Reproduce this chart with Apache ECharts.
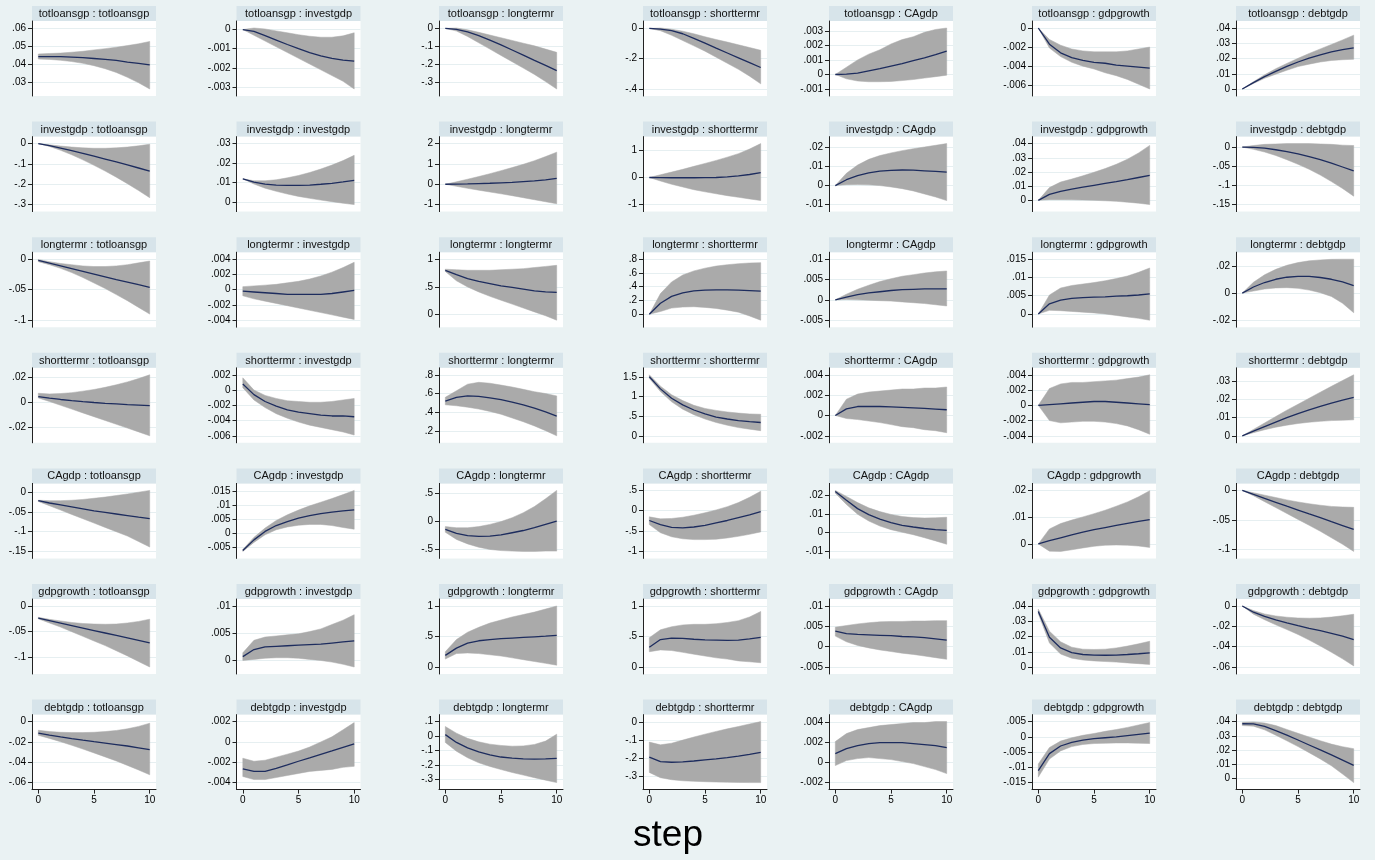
<!DOCTYPE html>
<html>
<head>
<meta charset="utf-8">
<script src="https://cdn.jsdelivr.net/npm/echarts@6/dist/echarts.min.js"></script>
<style>
  html, body { margin: 0; padding: 0; background: #eaf2f3; }
  #chart { width: 1375px; height: 860px; }
</style>
</head>
<body>
<div id="chart"></div>
<script>
// impulse response grid: row = impulse variable, column = response variable
const vars = ["totloansgp", "investgdp", "longtermr", "shorttermr", "CAgdp", "gdpgrowth", "debtgdp"];
const steps = [0, 1, 2, 3, 4, 5, 6, 7, 8, 9, 10];
const xTicks = [0, 5, 10];

// --- impulse: totloansgp ---
const ticksTotloansgp = [[.03,.04,.05,.06],[-.003,-.002,-.001,0],[-.3,-.2,-.1,0],[-.4,-.2,0],[-.001,0,.001,.002,.003],[-.006,-.004,-.002,0],[0,.01,.02,.03,.04]];
const irfTotloansgp = [
  [.044,.044,.044,.0438,.0435,.043,.0425,.042,.041,.0403,.0395],
  [0,-.0001,-.00032,-.00055,-.00078,-.001,-.0012,-.00137,-.0015,-.0016,-.00165],
  [0,-.006,-.02,-.04,-.065,-.092,-.12,-.148,-.177,-.205,-.234],
  [0,-.004,-.015,-.035,-.065,-.097,-.13,-.162,-.194,-.226,-.258],
  [0,.00002,.0001,.00025,.0004,.00058,.00075,.00095,.00115,.00137,.0016],
  [0,-.0017,-.0026,-.0031,-.0034,-.0036,-.0037,-.0039,-.004,-.0041,-.0042],
  [0,.0042,.0081,.0116,.0148,.0177,.0202,.0224,.0243,.0258,.027]
];
const loTotloansgp = [
  [.0427,.0425,.042,.0413,.0403,.039,.0373,.0352,.0325,.0295,.026],
  [0,-.0003,-.0006,-.0009,-.0012,-.0015,-.0018,-.0021,-.0024,-.0027,-.0031],
  [0,-.015,-.045,-.08,-.115,-.15,-.185,-.22,-.255,-.295,-.336],
  [0,-.015,-.045,-.08,-.115,-.15,-.19,-.23,-.27,-.315,-.366],
  [0,-.0003,-.00045,-.0005,-.0005,-.00048,-.00042,-.00035,-.00025,-.00015,-.00005],
  [0,-.0021,-.003,-.0036,-.004,-.0043,-.0047,-.005,-.0054,-.0059,-.0064],
  [0,.0036,.007,.0097,.0123,.0147,.0163,.0177,.0187,.0192,.0195]
];
const hiTotloansgp = [
  [.0455,.0458,.046,.0465,.047,.0478,.0485,.0493,.0502,.0512,.0525],
  [0,.00008,.00003,-.00007,-.00017,-.00027,-.00035,-.0004,-.0004,-.00033,-.00017],
  [0,.002,-.008,-.022,-.037,-.052,-.067,-.082,-.097,-.115,-.133],
  [0,.003,-.005,-.018,-.035,-.055,-.073,-.09,-.108,-.126,-.144],
  [0,.0005,.001,.0014,.0017,.0021,.0024,.0026,.0029,.0031,.0032],
  [0,-.0012,-.0018,-.0022,-.0024,-.0025,-.0025,-.0025,-.0024,-.0022,-.002],
  [0,.0048,.0093,.0133,.0168,.0201,.0233,.0263,.0292,.0322,.0353]
];

// --- impulse: investgdp ---
const ticksInvestgdp = [[-.3,-.2,-.1,0],[0,.01,.02,.03],[-1,0,1,2],[-1,0,1],[-.01,0,.01,.02],[0,.01,.02,.03,.04],[-.15,-.1,-.05,0]];
const irfInvestgdp = [
  [0,-.01,-.022,-.035,-.048,-.062,-.076,-.09,-.105,-.12,-.135],
  [.012,.0103,.0093,.0088,.0086,.0086,.0088,.0092,.0097,.0104,.0112],
  [0,.01,.02,.035,.05,.07,.09,.13,.17,.22,.29],
  [0,-.005,-.01,-.01,-.01,-.005,0,.02,.06,.11,.18],
  [0,.0031,.0052,.0067,.0076,.008,.0082,.0081,.0078,.0075,.0071],
  [0,.0042,.0063,.0079,.0093,.0106,.0119,.0132,.0146,.0161,.0176],
  [0,-.001,-.003,-.007,-.012,-.018,-.025,-.033,-.042,-.052,-.062]
];
const loInvestgdp = [
  [0,-.014,-.033,-.055,-.08,-.107,-.135,-.165,-.197,-.231,-.266],
  [.012,.0093,.0072,.0056,.0042,.003,.002,.0011,.0003,-.0005,-.0012],
  [0,-.1,-.2,-.29,-.38,-.47,-.56,-.66,-.76,-.86,-.96],
  [0,-.13,-.25,-.35,-.45,-.53,-.6,-.67,-.73,-.79,-.85],
  [0,.0005,.0006,.0004,0,-.0007,-.0016,-.0028,-.0044,-.006,-.0079],
  [0,.0005,.0005,.0004,.0002,0,-.0003,-.0007,-.0013,-.002,-.003],
  [0,-.006,-.013,-.022,-.033,-.045,-.058,-.073,-.09,-.108,-.128]
];
const hiInvestgdp = [
  [0,-.006,-.012,-.017,-.021,-.023,-.023,-.021,-.017,-.011,-.003],
  [.012,.011,.011,.0115,.0125,.0137,.0152,.017,.019,.0213,.024],
  [0,.12,.25,.38,.52,.67,.82,.98,1.16,1.36,1.58],
  [0,.1,.2,.3,.41,.52,.63,.75,.88,1.05,1.25],
  [0,.0065,.0108,.0138,.0158,.0172,.0184,.0194,.0203,.0212,.0221],
  [0,.009,.0129,.015,.0173,.0198,.0224,.0254,.029,.0334,.0387],
  [0,.004,.007,.008,.009,.009,.009,.008,.007,.005,.004]
];

// --- impulse: longtermr ---
const ticksLongtermr = [[-.1,-.05,0],[-.004,-.002,0,.002,.004],[0,.5,1],[0,.2,.4,.6,.8],[-.005,0,.005,.01],[0,.005,.01,.015],[-.02,0,.02]];
const irfLongtermr = [
  [-.002,-.0065,-.011,-.0155,-.02,-.0245,-.029,-.0335,-.0375,-.0418,-.046],
  [-.0002,-.0003,-.0004,-.0005,-.0006,-.0006,-.0006,-.0006,-.0005,-.0003,-.0001],
  [.8,.72,.65,.6,.56,.52,.49,.46,.43,.41,.4],
  [0,.16,.26,.31,.34,.35,.355,.355,.35,.345,.335],
  [0,.0007,.0013,.0017,.002,.0023,.0025,.0026,.0027,.0027,.0027],
  [0,.0028,.0038,.0043,.0045,.0046,.0047,.0049,.005,.0052,.0055],
  [0,.0045,.0078,.0102,.0117,.0124,.0123,.0115,.0102,.0082,.0055]
];
const loLongtermr = [
  [-.004,-.009,-.015,-.022,-.03,-.039,-.048,-.058,-.068,-.079,-.09],
  [-.0008,-.0012,-.0015,-.0018,-.0021,-.0024,-.0027,-.003,-.0033,-.0036,-.0039],
  [.78,.61,.5,.41,.33,.26,.19,.12,.05,-.02,-.1],
  [0,.04,.09,.105,.11,.1,.085,.06,.03,-.025,-.086],
  [0,.0001,0,-.0001,-.0002,-.0003,-.0005,-.0007,-.0009,-.0012,-.0015],
  [0,.001,.0009,.0007,.0005,.0003,0,-.0004,-.0008,-.0012,-.0017],
  [0,.0015,.003,.0038,.004,.0035,.0022,.0003,-.0025,-.0075,-.0145]
];
const hiLongtermr = [
  [-.0005,-.004,-.007,-.009,-.011,-.012,-.012,-.011,-.009,-.006,-.003],
  [.0004,.0005,.0006,.0007,.0009,.0011,.0014,.0018,.0023,.0029,.0036],
  [.82,.81,.8,.8,.8,.81,.82,.83,.85,.87,.89],
  [0,.3,.47,.57,.63,.67,.7,.72,.735,.745,.75],
  [0,.0014,.0026,.0036,.0045,.0052,.0058,.0062,.0066,.0069,.0071],
  [0,.0052,.0071,.0078,.0082,.0086,.0091,.0097,.0104,.0114,.0126],
  [0,.008,.0135,.0175,.0205,.0225,.0238,.0245,.0249,.025,.025]
];

// --- impulse: shorttermr ---
const ticksShorttermr = [[-.02,0,.02],[-.006,-.004,-.002,0,.002],[.2,.4,.6,.8],[0,.5,1,1.5],[-.002,0,.002,.004],[-.004,-.002,0,.002,.004],[0,.01,.02,.03]];
const irfShorttermr = [
  [.0044,.0032,.0021,.0012,.0004,-.0003,-.0009,-.0014,-.0019,-.0023,-.0027],
  [.0008,-.0006,-.0015,-.0021,-.0026,-.0029,-.0031,-.0033,-.0034,-.0034,-.0035],
  [.52,.56,.575,.57,.555,.535,.51,.48,.445,.405,.36],
  [1.51,1.2,.96,.79,.66,.56,.48,.43,.39,.36,.34],
  [0,.00065,.00088,.0009,.00088,.00084,.0008,.00075,.0007,.00063,.00056],
  [0,.0001,.0002,.0003,.0004,.0005,.0005,.0004,.0003,.0002,.0001],
  [0,.0025,.005,.0075,.0099,.0121,.0142,.016,.0178,.0195,.021]
];
const loShorttermr = [
  [.0033,.0005,-.0025,-.0055,-.0085,-.0115,-.0145,-.0175,-.0205,-.0235,-.0266],
  [.0003,-.0013,-.0023,-.0031,-.0037,-.0042,-.0046,-.0049,-.0052,-.0055,-.0059],
  [.48,.47,.455,.435,.41,.38,.34,.3,.255,.205,.15],
  [1.47,1.13,.87,.68,.54,.43,.34,.27,.21,.17,.13],
  [0,-.0003,-.0004,-.00055,-.0007,-.0009,-.0011,-.0012,-.0014,-.0015,-.0017],
  [0,-.002,-.0023,-.0022,-.0021,-.0021,-.0022,-.0024,-.0027,-.0032,-.0038],
  [0,.0017,.0033,.0047,.0058,.0067,.0074,.0079,.0083,.0085,.0087]
];
const hiShorttermr = [
  [.007,.0065,.0068,.0075,.0087,.01,.0117,.0137,.016,.0186,.0216],
  [.0016,0,-.0007,-.0011,-.0014,-.0015,-.0016,-.0016,-.0015,-.0013,-.0011],
  [.56,.63,.7,.72,.71,.69,.67,.645,.62,.6,.575],
  [1.56,1.27,1.05,.9,.78,.7,.65,.61,.58,.56,.55],
  [0,.0016,.0021,.0023,.0024,.0025,.0026,.0026,.0027,.0027,.0028],
  [0,.0022,.0028,.003,.003,.0031,.0032,.0033,.0035,.0037,.004],
  [0,.0035,.007,.0105,.014,.0172,.0205,.0238,.027,.0302,.0333]
];

// --- impulse: CAgdp ---
const ticksCAgdp = [[-.15,-.1,-.05,0],[-.005,0,.005,.01,.015],[-.5,0,.5],[-1,-.5,0,.5],[-.01,0,.01,.02],[0,.01,.02],[-.1,-.05,0]];
const irfCAgdp = [
  [-.021,-.027,-.032,-.037,-.042,-.047,-.051,-.055,-.059,-.063,-.0665],
  [-.0062,-.0024,.0006,.0027,.0041,.0053,.0062,.0069,.0075,.0079,.0083],
  [-.15,-.22,-.26,-.275,-.27,-.25,-.21,-.17,-.12,-.06,0],
  [-.24,-.34,-.41,-.42,-.4,-.36,-.3,-.24,-.17,-.1,-.02],
  [.0219,.0172,.0128,.0096,.0072,.0053,.0039,.003,.0022,.0016,.0012],
  [0,.0012,.0023,.0034,.0044,.0053,.0061,.0069,.0077,.0084,.0091],
  [0,-.0068,-.0135,-.0201,-.0267,-.0332,-.0397,-.046,-.0528,-.0593,-.0657]
];
const loCAgdp = [
  [-.023,-.034,-.045,-.056,-.067,-.078,-.089,-.1,-.111,-.125,-.139],
  [-.0065,-.0033,-.0006,.0012,.0022,.0028,.0031,.0031,.0027,.002,.0014],
  [-.2,-.33,-.41,-.47,-.51,-.53,-.54,-.545,-.545,-.54,-.54],
  [-.34,-.54,-.64,-.69,-.71,-.71,-.7,-.67,-.63,-.58,-.52],
  [.021,.015,.0098,.0062,.0035,.0016,.0002,-.0011,-.0027,-.0044,-.0062],
  [0,-.0027,-.0028,-.0022,-.0015,-.0009,-.0005,-.0004,-.0005,-.0008,-.0013],
  [0,-.009,-.019,-.029,-.039,-.049,-.059,-.069,-.08,-.091,-.103]
];
const hiCAgdp = [
  [-.02,-.021,-.021,-.02,-.018,-.015,-.012,-.008,-.004,.0005,.005],
  [-.0058,-.0015,.0018,.0045,.0065,.0082,.0097,.011,.0123,.0137,.0152],
  [-.1,-.12,-.12,-.1,-.06,-.01,.06,.15,.26,.4,.55],
  [-.15,-.2,-.19,-.16,-.11,-.05,.02,.1,.2,.33,.48],
  [.0225,.0193,.016,.0132,.0112,.0097,.0086,.008,.0078,.0079,.0082],
  [0,.0056,.0076,.0089,.0101,.0113,.0126,.0141,.0157,.0176,.0199],
  [0,-.004,-.008,-.012,-.016,-.0195,-.0225,-.025,-.027,-.028,-.0286]
];

// --- impulse: gdpgrowth ---
const ticksGdpgrowth = [[-.1,-.05,0],[0,.005,.01],[0,.5,1],[0,.5,1],[-.005,0,.005,.01],[0,.01,.02,.03,.04],[-.06,-.04,-.02,0]];
const irfGdpgrowth = [
  [-.0237,-.0285,-.0333,-.0381,-.0429,-.0477,-.0525,-.0573,-.0621,-.0669,-.0717],
  [.0007,.002,.0025,.0026,.0027,.0028,.0029,.003,.0032,.0034,.0036],
  [.19,.31,.39,.43,.45,.465,.475,.485,.495,.505,.52],
  [.325,.45,.475,.47,.455,.445,.44,.435,.44,.46,.485],
  [.0038,.0032,.003,.0029,.0028,.0027,.0025,.0024,.0022,.0019,.0016],
  [.0364,.0195,.0125,.0094,.0082,.0078,.0077,.0078,.0082,.0087,.0093],
  [0,-.0061,-.0103,-.0137,-.0166,-.0194,-.0219,-.0243,-.0269,-.0297,-.033]
];
const loGdpgrowth = [
  [-.025,-.033,-.041,-.05,-.059,-.068,-.077,-.087,-.097,-.108,-.1186],
  [0,.0002,.0004,.0005,.0005,.0004,.0002,0,-.0003,-.0007,-.0012],
  [.13,.22,.23,.22,.2,.18,.15,.12,.09,.06,.03],
  [.25,.28,.27,.24,.21,.18,.15,.13,.1,.085,.07],
  [.0026,.0012,.0003,-.0003,-.0008,-.0012,-.0016,-.0019,-.0023,-.0027,-.0031],
  [.035,.0158,.0085,.0058,.0046,.004,.0036,.0032,.0027,.0022,.0017],
  [0,-.008,-.0135,-.0185,-.0232,-.028,-.0335,-.0393,-.0455,-.052,-.0589]
];
const hiGdpgrowth = [
  [-.022,-.026,-.029,-.032,-.034,-.035,-.0355,-.035,-.033,-.03,-.0256],
  [.0014,.0037,.0043,.0045,.0047,.0049,.0053,.0058,.0066,.0074,.0084],
  [.25,.45,.57,.65,.72,.77,.82,.86,.9,.95,1.0],
  [.48,.61,.66,.69,.7,.7,.71,.73,.76,.82,.91],
  [.0048,.0052,.0056,.0059,.0061,.0062,.0062,.0063,.0063,.0064,.0064],
  [.038,.0235,.0165,.013,.0117,.0115,.0117,.0125,.0137,.0152,.0169],
  [0,-.0045,-.0078,-.0098,-.011,-.0118,-.012,-.0117,-.0109,-.0096,-.0081]
];

// --- impulse: debtgdp ---
const ticksDebtgdp = [[-.06,-.04,-.02,0],[-.004,-.002,0,.002],[-.3,-.2,-.1,0,.1],[-.3,-.2,-.1,0],[-.002,0,.002,.004],[-.015,-.01,-.005,0,.005],[0,.01,.02,.03,.04]];
const irfDebtgdp = [
  [-.0113,-.0132,-.015,-.0167,-.0183,-.0198,-.0212,-.0226,-.024,-.0258,-.0276],
  [-.00265,-.0029,-.0029,-.0026,-.00226,-.0019,-.00157,-.00123,-.00089,-.00054,-.0002],
  [.01,-.044,-.082,-.11,-.13,-.145,-.153,-.158,-.16,-.158,-.154],
  [-.194,-.219,-.222,-.22,-.215,-.209,-.203,-.196,-.188,-.178,-.167],
  [.0009,.0014,.0017,.0019,.002,.002,.002,.0019,.0018,.0017,.0015],
  [-.0111,-.0055,-.003,-.0018,-.0011,-.0006,-.0003,0,.0004,.0008,.0012],
  [.0385,.0384,.0366,.0337,.0305,.0271,.0236,.0201,.0166,.013,.0093]
];
const loDebtgdp = [
  [-.0135,-.0165,-.0198,-.0233,-.027,-.0308,-.0347,-.0387,-.0431,-.0476,-.0523],
  [-.0034,-.0037,-.0037,-.0035,-.0033,-.0031,-.0029,-.0028,-.0027,-.0025,-.0024],
  [-.044,-.105,-.15,-.185,-.21,-.232,-.252,-.27,-.288,-.305,-.322],
  [-.278,-.307,-.318,-.324,-.327,-.329,-.331,-.332,-.333,-.334,-.334],
  [-.0003,.0002,.0004,.0005,.0004,.0003,.0001,-.0001,-.0004,-.0007,-.0011],
  [-.0132,-.0073,-.0046,-.0032,-.0025,-.0022,-.0021,-.002,-.002,-.0021,-.0022],
  [.0372,.0368,.0342,.0305,.0265,.0225,.0182,.0138,.009,.0032,-.0028]
];
const hiDebtgdp = [
  [-.0085,-.0098,-.0105,-.0108,-.0108,-.0105,-.0098,-.0087,-.0071,-.0047,-.0016],
  [-.0016,-.0019,-.0018,-.0015,-.0012,-.0009,-.0005,0,.0005,.0012,.0019],
  [.066,.02,-.016,-.04,-.056,-.065,-.07,-.068,-.058,-.035,.013],
  [-.111,-.126,-.117,-.1,-.083,-.067,-.052,-.038,-.025,-.011,.002],
  [.0021,.0029,.0033,.0035,.0037,.0038,.0039,.004,.004,.0041,.0041],
  [-.0089,-.0035,-.0014,-.0003,.0005,.0011,.0018,.0024,.0031,.0039,.0047],
  [.0395,.0398,.039,.0372,.0345,.0318,.0292,.0266,.0242,.0224,.021]
];

const rows = [
  { ticks: ticksTotloansgp, irf: irfTotloansgp, lo: loTotloansgp, hi: hiTotloansgp },
  { ticks: ticksInvestgdp, irf: irfInvestgdp, lo: loInvestgdp, hi: hiInvestgdp },
  { ticks: ticksLongtermr, irf: irfLongtermr, lo: loLongtermr, hi: hiLongtermr },
  { ticks: ticksShorttermr, irf: irfShorttermr, lo: loShorttermr, hi: hiShorttermr },
  { ticks: ticksCAgdp, irf: irfCAgdp, lo: loCAgdp, hi: hiCAgdp },
  { ticks: ticksGdpgrowth, irf: irfGdpgrowth, lo: loGdpgrowth, hi: hiGdpgrowth },
  { ticks: ticksDebtgdp, irf: irfDebtgdp, lo: loDebtgdp, hi: hiDebtgdp },
];

// layout (px)
const colLeft = [32, 236.5, 439, 643, 829, 1032, 1236];
const rowTop = [6, 121.6, 237.2, 352.8, 468.4, 584, 699.6];
const plotW = 124;
const plotH = 75;
const barH = 15;
const pad = 7;

const font = "'Liberation Sans', Arial, sans-serif";
const axisColor = "#222";
const bandColor = "#aaaaaa";
const lineColor = "#1d2c5e";

// Stata style tick labels: .05 / -.002
function stata(v) {
  return String(+v.toFixed(6)).replace(/^(-?)0\./, "$1.");
}

function yRange(ticks, lo, hi) {
  const a = Math.min(...ticks, ...lo);
  const b = Math.max(...ticks, ...hi);
  const k = (b - a) / (plotH - 2 * pad);
  return [a - pad * k, b + pad * k];
}

// confidence band as one polygon: upper edge forward, lower edge back
function bandRenderer(lo, hi) {
  return function (params, api) {
    if (params.dataIndex !== 0) return null;
    const upper = steps.map((s, k) => api.coord([s, hi[k]]));
    const lower = steps.map((s, k) => api.coord([s, lo[k]])).reverse();
    return {
      type: "polygon",
      shape: { points: upper.concat(lower) },
      style: { fill: bandColor, stroke: bandColor, lineWidth: 0.5 },
    };
  };
}

const grids = [], xAxes = [], yAxes = [], series = [], graphics = [];

rows.forEach((row, r) => {
  for (let c = 0; c < vars.length; c++) {
    const i = r * vars.length + c;
    const left = colLeft[c];
    const top = rowTop[r];
    const ticks = row.ticks[c], irf = row.irf[c], lo = row.lo[c], hi = row.hi[c];
    const [ymin, ymax] = yRange(ticks, lo, hi);
    const bottomRow = r === rows.length - 1;

    grids.push({
      left, top: top + barH, width: plotW, height: plotH,
      show: true, backgroundColor: "#fff", borderWidth: 0,
    });

    xAxes.push({
      gridIndex: i, type: "value", min: -0.566, max: 10.566, show: bottomRow,
      axisLine: { onZero: false, lineStyle: { color: axisColor, width: 1 } },
      axisTick: { customValues: xTicks, length: 4, lineStyle: { color: axisColor } },
      axisLabel: { customValues: xTicks, fontSize: 10, color: "#000", margin: 6, fontFamily: font },
      splitLine: { show: false },
    });

    yAxes.push({
      gridIndex: i, type: "value", min: ymin, max: ymax,
      axisLine: { show: true, onZero: false, lineStyle: { color: axisColor, width: 1 } },
      axisTick: { show: true, customValues: ticks, length: 4, lineStyle: { color: axisColor } },
      axisLabel: { customValues: ticks, formatter: stata, fontSize: 10, color: "#000", margin: 6, fontFamily: font },
      splitLine: { show: true, lineStyle: { color: "#e6eff1", width: 1 } },
    });

    series.push(
      {
        type: "custom", xAxisIndex: i, yAxisIndex: i, silent: true, clip: true,
        data: steps.map((s, k) => [s, lo[k], hi[k]]),
        encode: { x: 0, y: [1, 2] },
        renderItem: bandRenderer(lo, hi),
      },
      {
        type: "line", xAxisIndex: i, yAxisIndex: i,
        data: steps.map((s, k) => [s, irf[k]]),
        symbol: "none", lineStyle: { color: lineColor, width: 1.3 }, silent: true,
      }
    );

    graphics.push(
      { type: "rect", silent: true, shape: { x: left, y: top, width: plotW, height: barH }, style: { fill: "#d7e4ea" } },
      {
        type: "text", silent: true, x: left + plotW / 2, y: top + barH / 2 + 0.5,
        style: { text: vars[r] + " : " + vars[c], fontSize: 11, fontFamily: font, fill: "#111", align: "center", verticalAlign: "middle" },
      }
    );
  }
});

graphics.push({
  type: "text", silent: true, x: 668, y: 836,
  style: { text: "step", fontSize: 37, fontFamily: font, fill: "#000", align: "center", verticalAlign: "middle" },
});

const chart = echarts.init(document.getElementById("chart"), null, { renderer: "canvas" });
chart.setOption({
  animation: false,
  backgroundColor: "#eaf2f3",
  textStyle: { fontFamily: font },
  grid: grids,
  xAxis: xAxes,
  yAxis: yAxes,
  series,
  graphic: graphics,
});
</script>
</body>
</html>
